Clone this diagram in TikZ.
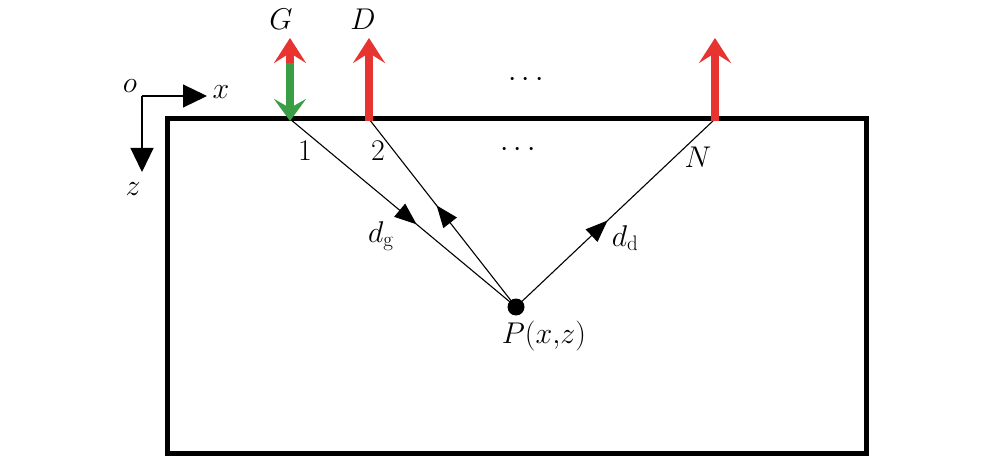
\RequirePackage{fix-cm}
\documentclass[tikz,border=0pt]{standalone}
\usetikzlibrary{arrows.meta,decorations.markings}
\definecolor{myred}{RGB}{232,52,48}
\definecolor{mygreen}{RGB}{58,158,68}
\begin{document}
\begin{tikzpicture}[x=1pt,y=-1pt,
  lab/.style={font=\fontsize{30}{34}\selectfont,inner sep=0pt},
  ray/.style={line width=1.1pt},
  midarrow/.style={postaction={decorate},decoration={markings,
     mark=at position #1 with {\arrow{Triangle[length=22pt,width=17pt]}}}},
  bigarrow/.style={line width=7.5pt,-{Stealth[length=25pt,width=32pt,inset=10pt]}},
  axisarrow/.style={line width=1.2pt,-{Triangle[length=24pt,width=23pt]}}
  ]
\useasboundingbox (0,0) rectangle (982,462);
% box
\draw[line width=5pt] (167,119) rectangle (866,453);
% points
\coordinate (r1) at (290,119);
\coordinate (r2) at (369,119);
\coordinate (rN) at (715,119);
\coordinate (P) at (516,307);
% rays
\draw[ray,midarrow=0.56] (r1) -- (P);
\draw[ray,midarrow=0.54] (P) -- (r2);
\draw[ray,midarrow=0.46] (P) -- (rN);
\fill (P) circle (8.5pt);
% sources / receivers
\coordinate (g1) at (290,56);
\draw[mygreen,line width=7.5pt,-{Stealth[length=22pt,width=32pt,inset=9pt]}] (g1) -- ([yshift=-2pt]r1);
\coordinate (gt) at (290,38);
\coordinate (gb) at (290,63);
\draw[myred,bigarrow] (gb) -- (gt);
\coordinate (dt) at (369,38);
\draw[myred,bigarrow] ([yshift=-2pt]r2) -- (dt);
\coordinate (nt) at (715,38);
\draw[myred,bigarrow] ([yshift=-2pt]rN) -- (nt);
% axes
\coordinate (o) at (142,96);
\coordinate (ox) at (207,96);
\coordinate (oz) at (142,172);
\draw[axisarrow] (o) -- (ox);
\draw[axisarrow] (o) -- (oz);
\node[lab] (ol) at (130,86) {$o$};
\node[lab] (xl) at (221,92) {$x$};
\node[lab] (zl) at (133,189) {$z$};
% labels
\node[lab] (Gl) at (281,19) {$G$};
\node[lab] (Dl) at (363,19) {$D$};
\node[lab] (dots1) at (526,80) {$\cdots$};
\node[lab] (dots2) at (518,150) {$\cdots$};
\node[lab] (l1) at (305,151) {1};
\node[lab] (l2) at (378,151) {2};
\node[lab] (lN) at (698,157) {$N$};
\node[lab] (dg) at (381,236) {$d_{\mathrm{g}}$};
\node[lab] (dd) at (625,238) {$d_{\mathrm{d}}$};
\node[lab] (Pl) at (544,336) {$P(x{,}z)$};
\end{tikzpicture}
\end{document}
